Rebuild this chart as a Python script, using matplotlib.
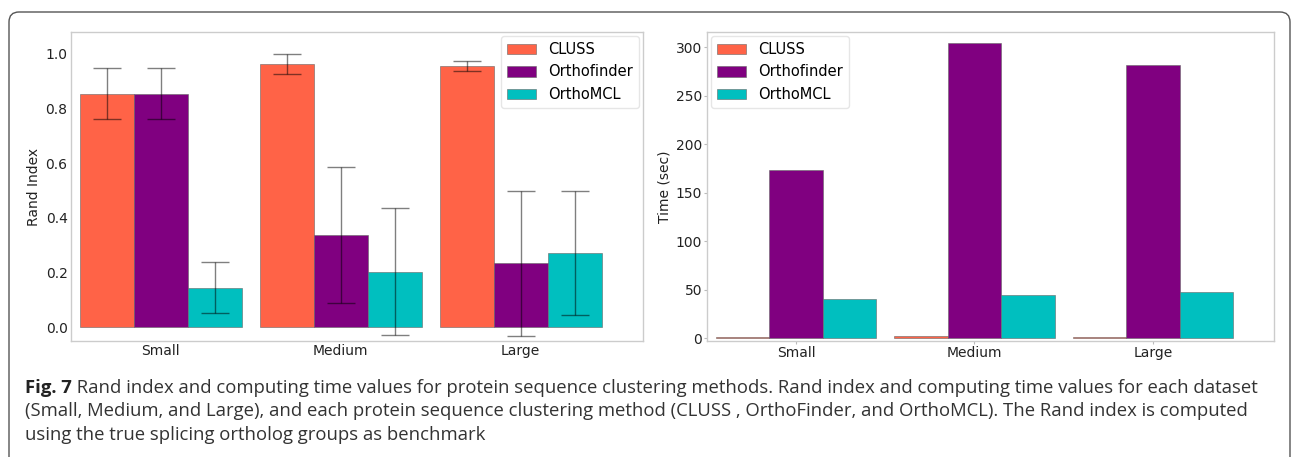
import matplotlib
matplotlib.use("Agg")
import matplotlib.pyplot as plt
import numpy as np
from matplotlib.patches import FancyBboxPatch

categories = ["Small", "Medium", "Large"]
methods = ["CLUSS", "Orthofinder", "OrthoMCL"]
colors = ["#FF6347", "#800080", "#00BFBF"]

rand_cluss = [0.855, 0.963, 0.955]
rand_cluss_err = [0.093, 0.037, 0.018]
rand_ortho = [0.855, 0.338, 0.234]
rand_ortho_err = [0.093, 0.248, 0.264]
rand_mcl = [0.145, 0.203, 0.271]
rand_mcl_err = [0.094, 0.232, 0.226]

time_cluss = [1.0, 2.0, 1.0]
time_ortho = [173, 304, 281]
time_mcl = [40.5, 44.5, 47.5]

caption_bold = "Fig. 7"
caption_lines = [
    " Rand index and computing time values for protein sequence clustering methods. Rand index and computing time values for each dataset",
    "(Small, Medium, and Large), and each protein sequence clustering method (CLUSS , OrthoFinder, and OrthoMCL). The Rand index is computed",
    "using the true splicing ortholog groups as benchmark",
]

W, H = 1292, 457
fig = plt.figure(figsize=(W / 100, H / 100), dpi=100)

def px_axes(x0, x1, y0, y1):
    return fig.add_axes([x0 / W, (H - y1) / H, (x1 - x0) / W, (y1 - y0) / H])

ax1 = px_axes(71, 643, 32, 341)
ax2 = px_axes(707, 1274, 32, 341)

x = np.arange(len(categories))
bw = 0.3
err_kw = dict(ecolor=(0, 0, 0, 0.5), elinewidth=1.0, capsize=10, capthick=1.0)

rand_vals = [rand_cluss, rand_ortho, rand_mcl]
rand_errs = [rand_cluss_err, rand_ortho_err, rand_mcl_err]
for i, (v, e) in enumerate(zip(rand_vals, rand_errs)):
    ax1.bar(x + (i - 1) * bw, v, bw, yerr=e, color=colors[i], edgecolor="#666666",
            linewidth=0.4, label=methods[i], error_kw=err_kw)

time_vals = [time_cluss, time_ortho, time_mcl]
for i, v in enumerate(time_vals):
    ax2.bar(x + (i - 1) * bw, v, bw, color=colors[i], edgecolor="#666666",
            linewidth=0.4, label=methods[i])

for ax in (ax1, ax2):
    ax.set_xticks(x)
    ax.set_xticklabels(categories)
    ax.set_xlim(-0.5, 2.68)
    for s in ax.spines.values():
        s.set_color("#cccccc")
        s.set_linewidth(1.0)

ax1.tick_params(axis="both", colors="#bbbbbb", labelcolor="#222222",
                labelsize=10, length=0, width=0.8)
ax1.tick_params(axis="y", pad=2.5)
ax1.tick_params(axis="x", pad=2.0)
ax2.tick_params(axis="both", colors="#bbbbbb", labelcolor="#222222",
                labelsize=10, length=2.5, width=0.8)
ax2.tick_params(axis="y", pad=1.0)
ax2.tick_params(axis="x", pad=0.8)

ax1.set_ylim(-0.05, 1.08)
ax1.set_yticks(np.arange(0, 1.01, 0.2))
ax1.set_yticklabels([f"{t:.1f}" for t in np.arange(0, 1.01, 0.2)])
ax1.set_ylabel("Rand Index", fontsize=10, color="#222222", labelpad=3)
ax1.legend(loc="upper right", fontsize=10.5, frameon=True, edgecolor="#e6e6e6",
           fancybox=True, framealpha=1.0, borderaxespad=0.3)

ax2.set_ylim(-3, 315.5)
ax2.set_yticks(np.arange(0, 301, 50))
ax2.set_ylabel("Time (sec)", fontsize=10, color="#222222", labelpad=3)
ax2.legend(loc="upper left", fontsize=10.5, frameon=True, edgecolor="#e6e6e6",
           fancybox=True, framealpha=1.0, borderaxespad=0.3)

# outer rounded frame
frame = FancyBboxPatch((9 / 100, -0.3), (1290 - 9) / 100, (H - 12) / 100 + 0.3,
                       boxstyle="round,pad=0,rounding_size=0.1",
                       transform=fig.dpi_scale_trans, fill=False,
                       edgecolor="#555555", linewidth=1.0)
fig.patches.append(frame)

# caption
cap_font = "Open Sans"
fs = 12.0
renderer = fig.canvas.get_renderer()
bases = [393, 416.5, 440]
tb = fig.text(25 / W, (H - bases[0]) / H, caption_bold, fontsize=fs, fontweight="bold",
              family=cap_font, color="#222222", va="baseline")
bb = tb.get_window_extent(renderer)
t1 = fig.text(bb.x1 / W, (H - bases[0]) / H, caption_lines[0], fontsize=fs,
              family=cap_font, color="#333333", va="baseline")
e1 = t1.get_window_extent(renderer)
scale = (1250 - 25) / (e1.x1 - bb.x0)
fs2 = fs * scale
tb.set_fontsize(fs2)
bb = tb.get_window_extent(renderer)
t1.set_fontsize(fs2)
t1.set_x(bb.x1 / W)
for j in (1, 2):
    fig.text(25 / W, (H - bases[j]) / H, caption_lines[j], fontsize=fs2,
             family=cap_font, color="#333333", va="baseline")

fig.savefig("out.png", dpi=100)
